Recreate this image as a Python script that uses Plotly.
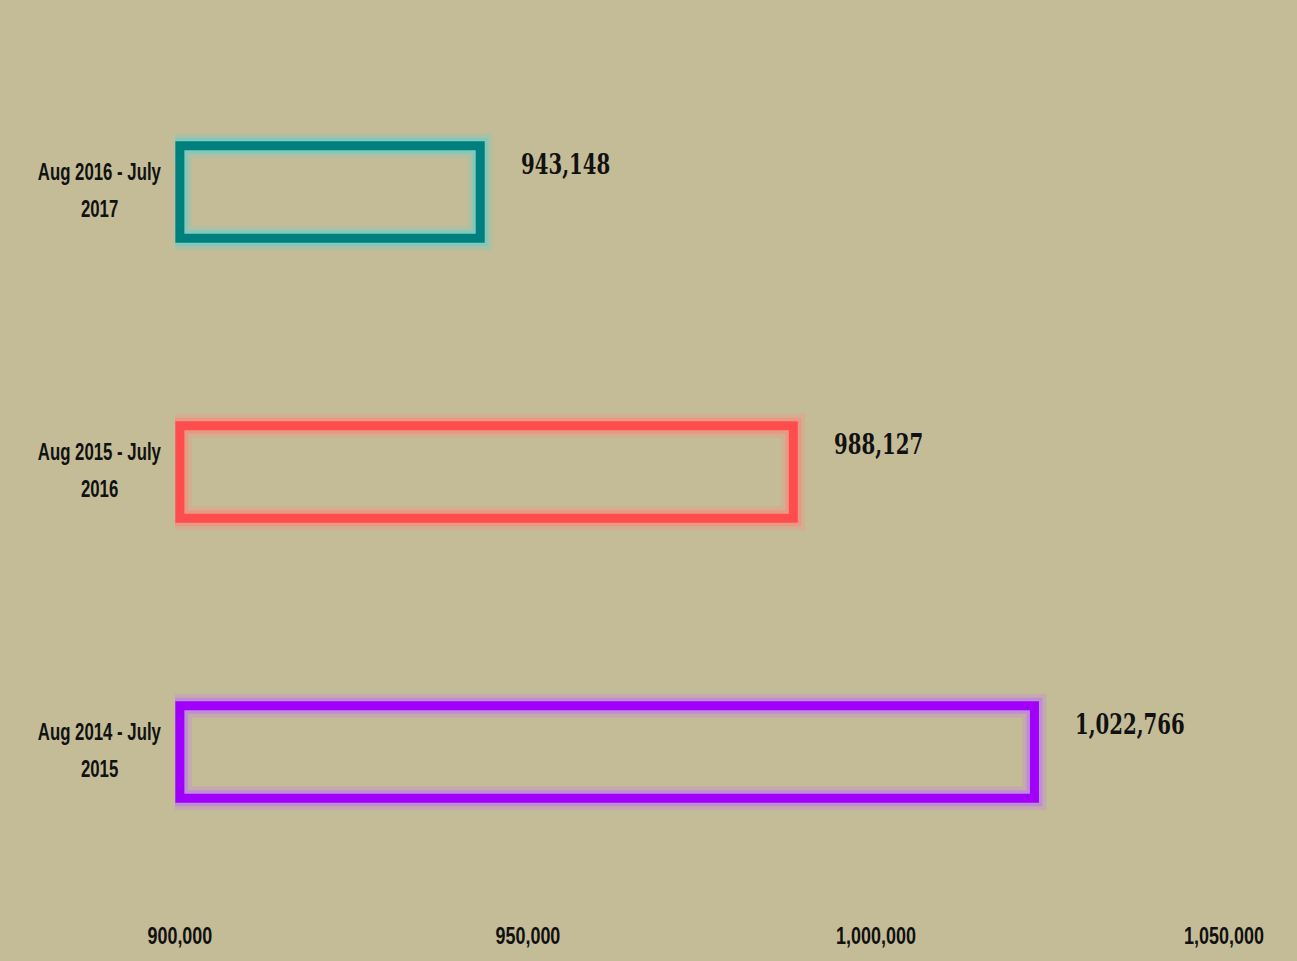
import plotly.graph_objects as go

categories = ["Aug 2014 - July<br>2015", "Aug 2015 - July<br>2016", "Aug 2016 - July<br>2017"]
values = [1022766, 988127, 943148]
value_labels = ["1,022,766", "988,127", "943,148"]
colors = ["#A000FA", "#FF4D4D", "#007F7F"]
glow_colors = ["rgba(190,110,255,0.5)", "rgba(255,130,120,0.5)", "rgba(90,210,210,0.5)"]
glow_outer = ["rgba(190,110,255,0.22)", "rgba(255,130,120,0.22)", "rgba(90,210,210,0.22)"]
tick_vals = [900000, 950000, 1000000, 1050000]
tick_text = ["900,000", "950,000", "1,000,000", "1,050,000"]
base_value = 900000

BG = "#C4BC97"
ypos = list(range(len(categories)))
SANS = dict(family="Liberation Sans, Arial, sans-serif", size=23, color="#111", weight="bold")

fig = go.Figure()
for lc, lw in ((glow_outer, 24), (glow_colors, 16), (colors, 9)):
    fig.add_trace(go.Bar(
        y=ypos, x=[v - base_value for v in values], base=base_value, orientation="h",
        width=0.33, marker=dict(color="rgba(0,0,0,0)", line=dict(color=lc, width=lw)),
        hoverinfo="skip" if lw != 9 else None, showlegend=False))

for i, (v, lab) in enumerate(zip(values, value_labels)):
    fig.add_annotation(x=v, y=i, text=f"<b>{lab}</b>", showarrow=False, align="left",
                       xanchor="left", yanchor="middle", xshift=39, yshift=28,
                       font=dict(family="DejaVu Serif, serif", size=27, color="#111"))
    lines = categories[i].split("<br>")
    for ln, ys in zip(lines, (20, -17)):
        fig.add_annotation(x=0, xref="paper", y=i, text=ln, showarrow=False,
                           xanchor="center", yanchor="middle", xshift=-76, yshift=ys,
                           align="center", font=SANS)

fig.update_layout(
    width=1297, height=961,
    paper_bgcolor=BG, plot_bgcolor=BG,
    margin=dict(l=175, r=73, t=52, b=50),
    barmode="overlay",
    xaxis=dict(range=[899300, 1050000], tickvals=tick_vals, ticktext=tick_text,
               showgrid=False, zeroline=False, showline=False, ticks="",
               ticklabelstandoff=28, tickfont=SANS),
    yaxis=dict(range=[-0.5, 2.5], showticklabels=False, showgrid=False, zeroline=False, showline=False),
)

post = """
document.documentElement.style.background='%s';
document.body.style.background='%s';
document.body.style.margin='0';
document.body.style.overflow='hidden';
function squeeze(el, f){
  var L = el.getComputedTextLength();
  el.setAttribute('textLength', (L*f).toFixed(1));
  el.setAttribute('lengthAdjust','spacingAndGlyphs');
}
document.querySelectorAll('.xtick text').forEach(function(e){ squeeze(e, 0.78); });
document.querySelectorAll('.annotation-text').forEach(function(e){ squeeze(e, 0.73); });
""" % (BG, BG)
fig.write_html("out.html", post_script=post, config={"displayModeBar": False})
